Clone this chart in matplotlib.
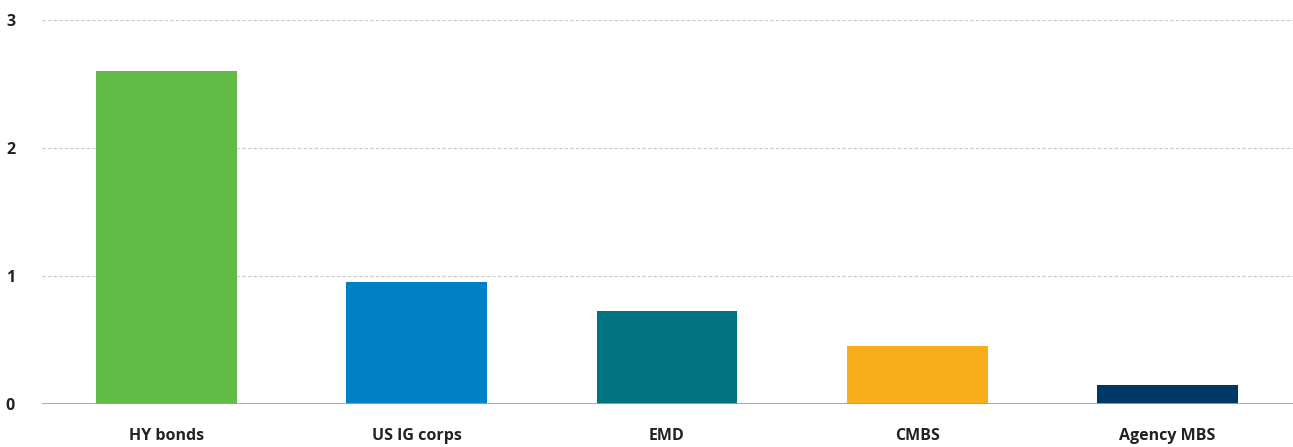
import matplotlib
matplotlib.use("Agg")
import matplotlib.pyplot as plt

categories = ["HY bonds", "US IG corps", "EMD", "CMBS", "Agency MBS"]
values = [2.6, 0.95, 0.73, 0.45, 0.15]
colors = ["#62bb46", "#0080c6", "#007380", "#f8ae1a", "#003865"]
yticks = [0, 1, 2, 3]

plt.rcParams['font.family'] = ['Open Sans', 'DejaVu Sans']

fig = plt.figure(figsize=(12.93, 4.47), dpi=100)
ax = fig.add_axes([41.5/1293, 43/447, 1251/1293, 384/447])

x = list(range(len(categories)))
ax.bar(x, values, width=0.5625, color=colors, zorder=3)

ax.set_xlim(-0.5, len(categories) - 0.5)
ax.set_ylim(0, 3)
ax.set_yticks(yticks)
ax.set_yticklabels([str(t) for t in yticks], fontsize=11.5, fontweight='bold', color='#222222')
ax.set_xticks(x)
ax.set_xticklabels(categories, fontsize=11.5, fontweight='bold', color='#222222')
ax.tick_params(axis='y', length=0, pad=19)
ax.tick_params(axis='x', length=0, pad=17)

for t in yticks[1:]:
    ax.axhline(t, color='#c8c8c8', lw=0.8, ls=(0, (3, 2)), zorder=1)
ax.axhline(0, color='#a0a0a0', lw=2, zorder=4)

for s in ax.spines.values():
    s.set_visible(False)

fig.savefig("out.png", dpi=100)
